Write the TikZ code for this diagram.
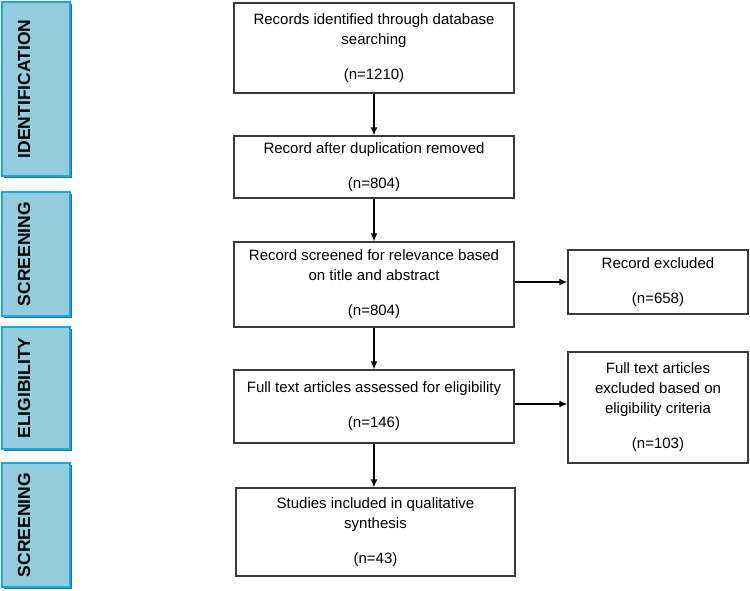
\documentclass[tikz,border=0pt]{standalone}
\usepackage{fontspec}
\setmainfont{Liberation Sans}
\usetikzlibrary{arrows.meta,shadows}
\definecolor{phasefill}{HTML}{93CDDD}
\definecolor{phaseline}{HTML}{1AA7E2}
\definecolor{phaseshade}{HTML}{2F6F86}
\definecolor{boxline}{HTML}{3A3A3A}
\tikzset{
    stagebox/.style={draw=boxline, line width=1.3pt, fill=white, align=center, inner sep=0pt,
        font=\fontsize{15}{20}\selectfont},
    phasebox/.style={draw=phaseline, line width=1.4pt, fill=phasefill, inner sep=0pt,
        minimum width=68pt, drop shadow={shadow xshift=2.2pt, shadow yshift=-2.2pt, fill=phaseshade, opacity=1}},
    phaselabel/.style={rotate=90, inner sep=0pt, font=\fontsize{17.5}{20}\selectfont\bfseries},
    flow/.style={draw=black, line width=1.4pt, -{Latex[length=8pt,width=7pt]}}
}
\begin{document}
\begin{tikzpicture}[x=1pt,y=-1pt]
                \useasboundingbox (0,0) rectangle (750,591);
                \def\mx{374};
                \def\rx{658};
                % phases down the left side
                \foreach \ph/\cy/\h/\txt in {ph1/89/174/IDENTIFICATION, ph2/254/124/SCREENING,
                        ph3/388/122/ELIGIBILITY, ph4/525/124/SCREENING}{
                    \node[phasebox, minimum height=\h pt] (\ph) at (36,\cy) {};
                    \node[phaselabel] at ([xshift=-12pt]\ph.center) {\txt};}
                % main column
                \node[stagebox, minimum width=280pt, minimum height=90pt] (ident) at (\mx,48)
                    {Records identified through database\\searching\\[15pt](n=1210)};
                \node[stagebox, minimum width=280pt, minimum height=62pt] (dedup) at (\mx,167)
                    {Record after duplication removed\\[15pt](n=804)};
                \node[stagebox, minimum width=280pt, minimum height=85pt] (screen) at (\mx,284.5)
                    {Record screened for relevance based\\on title and abstract\\[15pt](n=804)};
                \node[stagebox, minimum width=280pt, minimum height=73pt] (fulltext) at (\mx,406.5)
                    {Full text articles assessed for eligibility\\[15pt](n=146)};
                \node[stagebox, minimum width=279pt, minimum height=88pt] (incl) at (375.5,532)
                    {Studies included in qualitative\\synthesis\\[15pt](n=43)};
                % exclusions on the right
                \node[stagebox, minimum width=180pt, minimum height=64pt] (excl) at (\rx,282)
                    {Record excluded\\[15pt](n=658)};
                \node[stagebox, minimum width=180pt, minimum height=111pt] (ftexcl) at (\rx,407.5)
                    {Full text articles\\excluded based on\\eligibility criteria\\[15pt](n=103)};
                \draw[flow] (ident) -- (dedup);
                \draw[flow] (dedup) -- (screen);
                \draw[flow] (screen) -- (fulltext);
                \draw[flow] (fulltext) -- (fulltext |- incl.north);
                \draw[flow] (screen.east |- excl.west) -- (excl);
                \draw[flow] ([yshift=2.5pt]fulltext.east) -- ([yshift=2.5pt]fulltext.east -| ftexcl.west);
            \end{tikzpicture}
\end{document}
